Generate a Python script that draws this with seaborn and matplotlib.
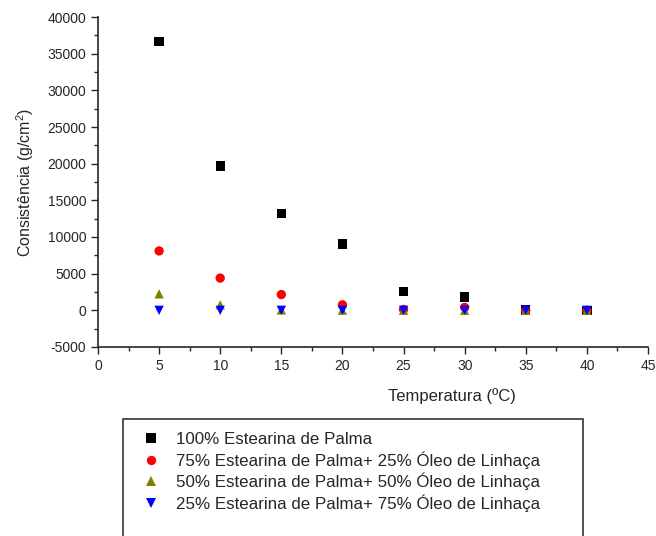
import pandas as pd
import seaborn as sns
import matplotlib
matplotlib.use('Agg')
import matplotlib.pyplot as plt
from matplotlib.patches import Rectangle
from matplotlib.ticker import MultipleLocator

# dados
temperatura = [5, 10, 15, 20, 25, 30, 35, 40]
estearina_100 = [36700, 19700, 13200, 9050, 2600, 1800, 30, 20]
estearina_75 = [8100, 4400, 2150, 750, 120, 400, 20, 10]
estearina_50 = [2250, 750, 60, 30, 20, 10, 0, 0]
estearina_25 = [0, 0, 0, 0, 0, 0, 0, 0]

series = ['100% Estearina de Palma',
          '75% Estearina de Palma+ 25% Óleo de Linhaça',
          '50% Estearina de Palma+ 50% Óleo de Linhaça',
          '25% Estearina de Palma+ 75% Óleo de Linhaça']
cores = ['#000000', '#ff0000', '#808000', '#0000ff']
marcadores = ['s', 'o', '^', 'v']

df = pd.concat([
    pd.DataFrame({'Temperatura': temperatura, 'Consistencia': vals, 'Amostra': nome})
    for nome, vals in zip(series, [estearina_100, estearina_75, estearina_50, estearina_25])
])

sns.set_style('ticks')
plt.rcParams['font.family'] = ['Liberation Sans', 'DejaVu Sans']
plt.rcParams['mathtext.fontset'] = 'custom'
plt.rcParams['mathtext.rm'] = 'Liberation Sans'
plt.rcParams['mathtext.it'] = 'Liberation Sans'
plt.rcParams['axes.unicode_minus'] = False

fig = plt.figure(figsize=(6.56, 5.36), dpi=100)
ax = fig.add_axes([98 / 656, 189 / 536, 550 / 656, 330 / 536])

sns.scatterplot(data=df, x='Temperatura', y='Consistencia', hue='Amostra', style='Amostra',
                hue_order=series, style_order=series, palette=cores, markers=marcadores,
                s=45, linewidth=0, ax=ax)

ax.set_xlim(0, 45)
ax.set_ylim(-5000, 40000)
ax.xaxis.set_major_locator(MultipleLocator(5))
ax.xaxis.set_minor_locator(MultipleLocator(2.5))
ax.yaxis.set_major_locator(MultipleLocator(5000))
ax.yaxis.set_minor_locator(MultipleLocator(2500))
ax.tick_params(which='major', length=5, width=1, labelsize=10, direction='out')
ax.tick_params(which='minor', length=3, width=1, direction='out')
for lado in ['left', 'bottom']:
    ax.spines[lado].set_linewidth(1.2)
sns.despine(ax=ax)

ax.set_xlabel('Temperatura (ºC)', fontsize=12)
ax.xaxis.set_label_coords(0.644, -0.125)
ax.set_ylabel('Consistência (g/cm$^2$)', fontsize=11.5, labelpad=8)

# legenda dentro de uma caixa fora dos eixos
handles, labels = ax.get_legend_handles_labels()
ax.get_legend().remove()
fig.patches.append(Rectangle((123 / 656, -0.05), 460 / 656, 0.05 + 117 / 536,
                             transform=fig.transFigure, fill=False, edgecolor='#333333',
                             linewidth=1.2))
fig.legend(handles, labels, loc='upper left', bbox_to_anchor=(134 / 656, 1 - 432 / 536),
           frameon=False, fontsize=12.2, handletextpad=0.45, labelspacing=0.24,
           borderpad=0, borderaxespad=0)

fig.savefig('out.png', dpi=100)
